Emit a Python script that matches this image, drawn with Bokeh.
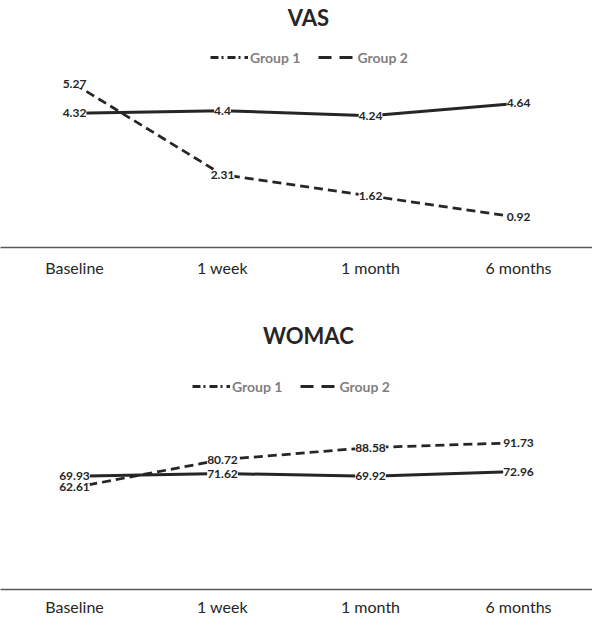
from bokeh.plotting import figure
from bokeh.models import (ColumnDataSource, LabelSet, Label, Legend, LegendItem,
                          FactorRange, Range1d)
from bokeh.core.properties import value
from bokeh.layouts import column
from bokeh.embed import file_html
from bokeh.resources import INLINE

categories = ["Baseline", "1 week", "1 month", "6 months"]
series_names = ["Group 1", "Group 2"]
vas_group1 = [5.27, 2.31, 1.62, 0.92]
vas_group2 = [4.32, 4.4, 4.24, 4.64]
womac_group1 = [62.61, 80.72, 88.58, 91.73]
womac_group2 = [69.93, 71.62, 69.92, 72.96]

FONT = "Lato"
INK = "#262626"


def make_panel(title, g1, g2, height, frame_h, y_start, y_end, title_y,
               legend_loc, standoff):
    p = figure(x_range=FactorRange(factors=categories),
               y_range=Range1d(y_start, y_end),
               width=592, height=height, output_backend="svg",
               toolbar_location=None,
               min_border_left=0, min_border_right=0, min_border_top=0,
               min_border_bottom=height - frame_h)
    p.outline_line_color = None
    p.grid.visible = False
    p.yaxis.visible = False
    p.background_fill_color = "white"
    p.border_fill_color = "white"

    ax = p.xaxis[0]
    ax.axis_line_color = "#595959"
    ax.axis_line_width = 1.5
    ax.major_tick_line_color = None
    ax.minor_tick_line_color = None
    ax.major_tick_out = 0
    ax.major_label_standoff = standoff
    ax.major_label_text_font = FONT
    ax.major_label_text_font_size = "16px"
    ax.major_label_text_color = INK

    # data lines
    p.line(x=categories, y=g1, line_color=INK, line_width=2.75, line_dash="9 5")
    p.line(x=categories, y=g2, line_color=INK, line_width=3)

    # data labels (centred on points, white boxes)
    for vals in (g1, g2):
        src = ColumnDataSource(dict(x=categories, y=vals, t=[str(v) for v in vals]))
        p.add_layout(LabelSet(x="x", y="y", text="t", source=src,
                              text_align="center", text_baseline="middle",
                              text_font=value(FONT), text_font_size=value("12px"),
                              text_font_style=value("bold"), text_color=INK,
                              background_fill_color="white"))

    # legend (own dash styles as in the reference); no visible data
    nan = float("nan")
    r1 = p.line(x=categories[:1], y=[nan], line_color=INK, line_width=3,
                line_dash="8 3 2 4")
    r2 = p.line(x=categories[:1], y=[nan], line_color=INK, line_width=3,
                line_dash="13 8")
    legend = Legend(items=[LegendItem(label=series_names[0], renderers=[r1]),
                           LegendItem(label=series_names[1], renderers=[r2])],
                    location=legend_loc, orientation="horizontal",
                    glyph_width=38, glyph_height=20, label_height=20,
                    label_standoff=2, spacing=17, padding=0, margin=0,
                    border_line_color=None, background_fill_alpha=0,
                    label_text_font=FONT, label_text_font_style="bold",
                    label_text_font_size="14px", label_text_color="#7f7f7f")
    p.add_layout(legend)

    p.add_layout(Label(x=2.08, y=title_y, text=title, text_align="center",
                       text_baseline="middle", text_font=FONT,
                       text_font_size="22px", text_font_style="bold",
                       text_color=INK))
    return p


p1 = make_panel("VAS", vas_group1, vas_group2, height=310, frame_h=247,
                y_start=-0.065, y_end=8.0, title_y=7.45,
                legend_loc=(210, 180), standoff=10)
p2 = make_panel("WOMAC", womac_group1, womac_group2, height=308, frame_h=282,
                y_start=-3.87, y_end=177.8, title_y=161.5,
                legend_loc=(192, 193), standoff=7)

layout = column(p1, p2, spacing=0)
open("out.html", "w").write(file_html(layout, INLINE))
